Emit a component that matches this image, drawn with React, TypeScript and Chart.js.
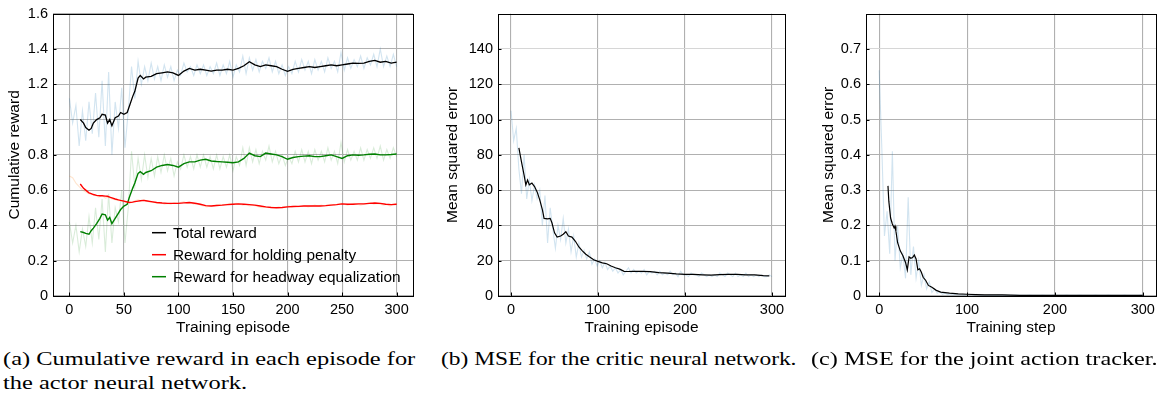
import React, { useEffect, useRef } from 'react';
import { Chart, registerables } from 'chart.js';

Chart.register(...registerables);

const SANS = '"Liberation Sans", Arial, Helvetica, sans-serif';
const SERIF = '"Liberation Serif", "Times New Roman", serif';

// ---------- shared ----------
const rawEpisodes: number[] = Array.from({ length: 101 }, (_, i) => i * 3);

// ---------- (a) cumulative reward ----------
const aXTicks = [0, 50, 100, 150, 200, 250, 300];
const aYTicks = [0, 0.2, 0.4, 0.6, 0.8, 1, 1.2, 1.4, 1.6];

const aSmoothX = [10, 13, 15, 18, 20, 22, 25, 28, 30, 33, 35, 37, 39, 42, 45, 47, 50, 53, 55, 58, 60, 63, 65, 68, 70, 75, 80, 85, 90, 95, 100, 105, 110, 115, 120, 125, 130, 135, 140, 145, 150, 155, 160, 165, 170, 175, 180, 185, 190, 195, 200, 205, 210, 215, 220, 225, 230, 235, 240, 245, 250, 255, 260, 265, 270, 275, 280, 285, 290, 295, 300];

const totalSmooth = [1.0, 0.98, 0.955, 0.94, 0.95, 0.98, 1.0, 1.01, 1.03, 1.025, 0.98, 1.0, 0.965, 1.01, 1.02, 1.04, 1.03, 1.04, 1.075, 1.13, 1.16, 1.235, 1.25, 1.23, 1.24, 1.245, 1.26, 1.265, 1.27, 1.265, 1.25, 1.275, 1.29, 1.28, 1.285, 1.28, 1.275, 1.28, 1.28, 1.285, 1.28, 1.29, 1.305, 1.328, 1.31, 1.3, 1.31, 1.305, 1.3, 1.285, 1.273, 1.285, 1.29, 1.295, 1.3, 1.295, 1.3, 1.305, 1.31, 1.305, 1.31, 1.315, 1.32, 1.318, 1.32, 1.33, 1.335, 1.325, 1.33, 1.32, 1.325];

const holdingSmooth = [0.635, 0.61, 0.6, 0.585, 0.58, 0.575, 0.57, 0.568, 0.568, 0.566, 0.565, 0.56, 0.556, 0.55, 0.545, 0.542, 0.538, 0.533, 0.53, 0.532, 0.535, 0.538, 0.54, 0.542, 0.54, 0.535, 0.53, 0.527, 0.525, 0.525, 0.525, 0.528, 0.53, 0.526, 0.52, 0.512, 0.51, 0.513, 0.515, 0.518, 0.52, 0.522, 0.52, 0.518, 0.515, 0.51, 0.505, 0.502, 0.5, 0.502, 0.505, 0.507, 0.508, 0.51, 0.51, 0.51, 0.51, 0.512, 0.515, 0.518, 0.522, 0.52, 0.52, 0.522, 0.522, 0.525, 0.527, 0.525, 0.52, 0.518, 0.52];

const headwaySmooth = [0.365, 0.36, 0.355, 0.35, 0.37, 0.385, 0.41, 0.44, 0.465, 0.46, 0.43, 0.445, 0.41, 0.44, 0.47, 0.49, 0.51, 0.52, 0.56, 0.61, 0.64, 0.695, 0.705, 0.69, 0.7, 0.71, 0.73, 0.74, 0.745, 0.74, 0.73, 0.75, 0.76, 0.76, 0.77, 0.775, 0.765, 0.762, 0.76, 0.758, 0.755, 0.76, 0.78, 0.81, 0.795, 0.79, 0.81, 0.805, 0.8, 0.79, 0.775, 0.785, 0.79, 0.793, 0.795, 0.79, 0.79, 0.795, 0.8, 0.79, 0.78, 0.795, 0.8, 0.798, 0.8, 0.803, 0.805, 0.8, 0.8, 0.802, 0.805];

const totalRaw = [
  1.12, 0.98, 1.08, 0.85, 1.05, 0.88, 1.1, 0.92, 1.15, 0.9,
  1.22, 0.85, 1.27, 0.8, 1.1, 0.95, 1.18, 0.84, 1.05, 1.3,
  1.12, 1.33, 1.2, 1.3, 1.22, 1.32, 1.23, 1.3, 1.22, 1.31,
  1.24, 1.3, 1.22, 1.28, 1.25, 1.32, 1.27, 1.3, 1.25, 1.31,
  1.26, 1.31, 1.25, 1.3, 1.26, 1.32, 1.25, 1.31, 1.26, 1.33,
  1.24, 1.31, 1.27, 1.36, 1.26, 1.35, 1.28, 1.34, 1.27, 1.33,
  1.29, 1.35, 1.27, 1.33, 1.26, 1.31, 1.25, 1.3, 1.26, 1.33,
  1.27, 1.34, 1.28, 1.33, 1.26, 1.34, 1.28, 1.33, 1.27, 1.35,
  1.29, 1.33, 1.27, 1.38, 1.28, 1.35, 1.29, 1.34, 1.3, 1.36,
  1.29, 1.35, 1.31, 1.37, 1.3, 1.4, 1.3, 1.36, 1.3, 1.37,
  1.3,
];

const holdingRaw = [
  0.68, 0.67, 0.64, 0.62, 0.6, 0.59, 0.58, 0.575, 0.57, 0.56,
  0.57, 0.555, 0.56, 0.55, 0.545, 0.54, 0.54, 0.53, 0.535, 0.53,
  0.54, 0.545, 0.54, 0.545, 0.535, 0.53, 0.53, 0.525, 0.53, 0.52,
  0.525, 0.52, 0.53, 0.525, 0.53, 0.535, 0.525, 0.53, 0.52, 0.525,
  0.515, 0.51, 0.505, 0.51, 0.51, 0.515, 0.52, 0.515, 0.52, 0.525,
  0.52, 0.525, 0.52, 0.515, 0.52, 0.51, 0.515, 0.51, 0.505, 0.5,
  0.505, 0.5, 0.505, 0.5, 0.505, 0.5, 0.505, 0.51, 0.505, 0.51,
  0.505, 0.51, 0.51, 0.505, 0.51, 0.515, 0.51, 0.515, 0.51, 0.515,
  0.52, 0.515, 0.52, 0.525, 0.52, 0.515, 0.52, 0.525, 0.52, 0.515,
  0.52, 0.525, 0.53, 0.52, 0.525, 0.52, 0.515, 0.52, 0.51, 0.52,
  0.525,
];

const headwayRaw = [
  0.42, 0.3, 0.4, 0.25, 0.38, 0.28, 0.45, 0.3, 0.5, 0.32,
  0.55, 0.25, 0.58, 0.3, 0.5, 0.42, 0.6, 0.3, 0.5, 0.82,
  0.62, 0.78, 0.66, 0.8, 0.67, 0.78, 0.68, 0.79, 0.7, 0.8,
  0.71, 0.78, 0.68, 0.76, 0.72, 0.8, 0.73, 0.79, 0.72, 0.8,
  0.73, 0.8, 0.73, 0.79, 0.72, 0.8, 0.72, 0.79, 0.73, 0.8,
  0.71, 0.79, 0.74, 0.84, 0.74, 0.84, 0.76, 0.83, 0.75, 0.82,
  0.77, 0.85, 0.76, 0.82, 0.75, 0.8, 0.74, 0.79, 0.75, 0.82,
  0.76, 0.83, 0.76, 0.82, 0.75, 0.83, 0.77, 0.82, 0.76, 0.84,
  0.77, 0.82, 0.75, 0.87, 0.76, 0.83, 0.77, 0.82, 0.77, 0.84,
  0.77, 0.83, 0.78, 0.84, 0.78, 0.85, 0.77, 0.83, 0.78, 0.84,
  0.79,
];

// ---------- (b) critic MSE ----------
const bXTicks = [0, 100, 200, 300];
const bYTicks = [0, 20, 40, 60, 80, 100, 120, 140];
const bSmoothX = [9, 12, 15, 17, 19, 21, 24, 27, 30, 33, 36, 38, 42, 45, 47, 50, 53, 57, 60, 63, 66, 70, 74, 78, 82, 86, 90, 95, 100, 105, 110, 115, 120, 125, 130, 135, 140, 150, 160, 170, 180, 190, 200, 210, 220, 230, 240, 250, 260, 270, 280, 290, 297];
const bSmoothY = [84, 76, 68.5, 63, 65.7, 63, 64, 62, 59, 54.5, 49, 44, 43.7, 44, 41.5, 35.8, 33.4, 34, 35, 36.4, 34, 33.4, 31, 27.8, 25.6, 23.7, 22.2, 20.5, 19.6, 18.8, 18.3, 17, 16, 15.2, 14, 13.9, 14, 14, 13.8, 13.2, 13, 12.5, 12.3, 12.3, 12, 11.8, 12.1, 12.3, 12.2, 12, 12, 11.5, 11.4];
const bRaw = [
  105, 88, 95, 72, 58, 80, 55, 66, 54, 63,
  55, 60, 40, 57, 30, 50, 38, 27, 40, 32,
  44, 30, 38, 25, 34, 22, 30, 22, 26, 21,
  25, 18, 21, 17, 20, 16, 19, 15, 17, 14,
  16, 13, 15, 12, 14, 16, 13, 15, 13, 14,
  13, 15, 12, 14, 13, 14, 12, 14, 12, 13,
  12, 14, 12, 13, 11, 14, 12, 12, 11, 13,
  12, 12, 11, 13, 12, 11, 12, 11, 12, 11,
  13, 12, 11, 13, 12, 11, 13, 11, 12, 11,
  13, 11, 12, 11, 12, 11, 12, 11, 11, 12,
  11,
];

// ---------- (c) joint action tracker MSE ----------
const cXTicks = [0, 100, 200, 300];
const cYTicks = [0, 0.1, 0.2, 0.3, 0.4, 0.5, 0.6, 0.7];
const cSmoothX = [10, 11, 13, 15, 17, 18, 19, 21, 24, 27, 30, 32, 34, 36, 38, 40, 42, 44, 46, 48, 50, 53, 56, 60, 65, 70, 80, 90, 100, 110, 120, 140, 160, 180, 200, 220, 240, 260, 280, 300];
const cSmoothY = [0.312, 0.268, 0.221, 0.204, 0.193, 0.198, 0.184, 0.151, 0.128, 0.114, 0.095, 0.074, 0.111, 0.107, 0.109, 0.116, 0.105, 0.074, 0.077, 0.067, 0.053, 0.044, 0.03, 0.025, 0.016, 0.011, 0.008, 0.006, 0.005, 0.004, 0.003, 0.003, 0.002, 0.002, 0.002, 0.002, 0.002, 0.002, 0.002, 0.002];
const cRaw = [
  0.64, 0.42, 0.17, 0.24, 0.12, 0.41, 0.1, 0.2, 0.08, 0.12,
  0.05, 0.28, 0.06, 0.14, 0.05, 0.1, 0.03, 0.06, 0.02, 0.04,
  0.01, 0.02, 0.008, 0.012, 0.005, 0.008, 0.004, 0.006, 0.003, 0.005,
  0.003, 0.004, 0.002, 0.004, 0.003, 0.004, 0.002, 0.005, 0.002, 0.003,
  0.002, 0.002, 0.003, 0.002, 0.002, 0.003, 0.002, 0.002, 0.003, 0.002,
  0.002, 0.002, 0.003, 0.002, 0.002, 0.002, 0.002, 0.003, 0.002, 0.002,
  0.002, 0.002, 0.003, 0.002, 0.002, 0.002, 0.003, 0.002, 0.002, 0.002,
  0.002, 0.003, 0.002, 0.002, 0.002, 0.002, 0.003, 0.002, 0.002, 0.002,
  0.002, 0.002, 0.003, 0.002, 0.002, 0.002, 0.002, 0.003, 0.002, 0.002,
  0.002, 0.002, 0.002, 0.003, 0.002, 0.002, 0.002, 0.002, 0.002, 0.003,
  0.002,
];

function pairs(xs: number[], ys: number[]) {
  const n = Math.min(xs.length, ys.length);
  const out: { x: number; y: number }[] = [];
  for (let i = 0; i < n; i++) out.push({ x: xs[i], y: ys[i] });
  return out;
}

function fmt(v: number) {
  return String(+Number(v).toFixed(4));
}

const framePlugin = {
  id: 'frame',
  afterDatasetsDraw(chart: any) {
    const { ctx, chartArea: a, scales } = chart;
    ctx.save();
    ctx.strokeStyle = '#000';
    ctx.lineWidth = 1;
    ctx.beginPath();
    for (const t of scales.x.ticks) {
      const px = Math.round(scales.x.getPixelForValue(t.value)) + 0.5;
      ctx.moveTo(px, a.bottom);
      ctx.lineTo(px, a.bottom - 3.5);
    }
    for (const t of scales.y.ticks) {
      const py = Math.round(scales.y.getPixelForValue(t.value)) + 0.5;
      ctx.moveTo(a.left, py);
      ctx.lineTo(a.left + 3.5, py);
    }
    ctx.stroke();
    ctx.strokeRect(Math.round(a.left) + 0.5, Math.round(a.top) + 0.5, Math.round(a.right - a.left), Math.round(a.bottom - a.top));
    ctx.restore();
  },
};

const legendPlugin = {
  id: 'inlineLegend',
  afterDatasetsDraw(chart: any, _args: any, opts: any) {
    if (!opts || !opts.show) return;
    const { ctx, chartArea: a } = chart;
    const items = chart.data.datasets.filter((d: any) => d.label);
    ctx.save();
    ctx.font = `15.4px ${SANS}`;
    ctx.textBaseline = 'middle';
    ctx.fillStyle = '#000';
    items.forEach((d: any, i: number) => {
      const y = a.top + opts.top + i * opts.rowGap;
      ctx.strokeStyle = d.borderColor;
      ctx.lineWidth = 1.5;
      ctx.beginPath();
      ctx.moveTo(a.left + opts.left, y);
      ctx.lineTo(a.left + opts.left + 14, y);
      ctx.stroke();
      ctx.fillText(d.label, a.left + opts.left + 21, y + 1);
    });
    ctx.restore();
  },
};

type PanelProps = {
  left: number;
  width: number;
  height: number;
  yAxisWidth: number;
  yTitlePad: number;
  padRight: number;
  xTicks: number[];
  yTicks: number[];
  yMax: number;
  yTitle: string;
  xTitle: string;
  lightGrid?: number;
  datasets: any[];
  legend?: any;
};

function Panel(p: PanelProps) {
  const ref = useRef<HTMLCanvasElement>(null);
  useEffect(() => {
    if (!ref.current) return;
    const chart = new Chart(ref.current, {
      type: 'line',
      data: { datasets: p.datasets },
      plugins: [framePlugin, legendPlugin],
      options: {
        animation: false,
        responsive: false,
        devicePixelRatio: 1,
        layout: { padding: { top: 10, right: p.padRight, left: 0, bottom: 0 } },
        elements: { point: { radius: 0 }, line: { tension: 0 } },
        plugins: {
          legend: { display: false },
          tooltip: { enabled: false },
          inlineLegend: p.legend || { show: false },
        } as any,
        scales: {
          x: {
            type: 'linear',
            min: -15,
            max: 315,
            afterBuildTicks: (s: any) => {
              s.ticks = p.xTicks.map((v) => ({ value: v }));
            },
            afterFit: (s: any) => {
              s.height = p.height - 296;
            },
            grid: { color: '#b0b0b0', lineWidth: 1.1, drawTicks: false },
            border: { display: false },
            ticks: {
              color: '#000',
              padding: 5,
              maxRotation: 0,
              font: { family: SANS, size: 14.5 },
              callback: (v: any) => fmt(v),
            },
            title: {
              display: true,
              text: p.xTitle,
              color: '#000',
              font: { family: SANS, size: 15.5, lineHeight: 1 },
              padding: { top: 0, bottom: 5 },
            },
          },
          y: {
            type: 'linear',
            min: 0,
            max: p.yMax,
            afterBuildTicks: (s: any) => {
              s.ticks = p.yTicks.map((v) => ({ value: v }));
            },
            afterFit: (s: any) => {
              s.width = p.yAxisWidth;
            },
            grid: {
              color: (c: any) => (p.lightGrid !== undefined && c.tick && Math.abs(c.tick.value - p.lightGrid) < 1e-9 ? '#d6d6d6' : '#b0b0b0'),
              lineWidth: 1.1,
              drawTicks: false,
            },
            border: { display: false },
            ticks: {
              color: '#000',
              padding: 5,
              font: { family: SANS, size: 14.5 },
              callback: (v: any) => fmt(v),
            },
            title: {
              display: true,
              text: p.yTitle,
              color: '#000',
              font: { family: SANS, size: 15.5, lineHeight: 1 },
              padding: { top: p.yTitlePad, bottom: 0 },
            },
          },
        },
      } as any,
    });
    return () => chart.destroy();
  }, []);
  return (
    <canvas
      ref={ref}
      width={p.width}
      height={p.height}
      style={{ position: 'absolute', left: p.left, top: 0, width: p.width, height: p.height }}
    />
  );
}

const lineDs = (label: string, data: any[], color: string, width: number) => ({
  label,
  data,
  borderColor: color,
  backgroundColor: color,
  borderWidth: width,
  pointRadius: 0,
  fill: false,
});

export default function App() {
  const aDatasets = [
    lineDs('Total reward', pairs(aSmoothX, totalSmooth), '#000000', 1.3),
    lineDs('Reward for holding penalty', pairs(aSmoothX, holdingSmooth), '#ff0000', 1.4),
    lineDs('Reward for headway equalization', pairs(aSmoothX, headwaySmooth), '#008000', 1.4),
    lineDs('', pairs(rawEpisodes, totalRaw), 'rgba(31,119,180,0.2)', 1.1),
    lineDs('', pairs(rawEpisodes, holdingRaw), 'rgba(255,127,14,0.2)', 1.1),
    lineDs('', pairs(rawEpisodes, headwayRaw), 'rgba(0,128,0,0.15)', 1.1),
  ];
  const bDatasets = [
    lineDs('', pairs(bSmoothX, bSmoothY), '#000000', 1.2),
    lineDs('', pairs(rawEpisodes, bRaw), 'rgba(31,119,180,0.2)', 1.1),
  ];
  const cDatasets = [
    lineDs('', pairs(cSmoothX, cSmoothY), '#000000', 1.2),
    lineDs('', pairs(rawEpisodes, cRaw), 'rgba(31,119,180,0.2)', 1.1),
  ];
  const capStyle: React.CSSProperties = {
    position: 'absolute',
    fontFamily: SERIF,
    fontSize: 18.5,
    lineHeight: '24px',
    whiteSpace: 'nowrap',
    color: '#000',
    transformOrigin: 'left top',
  };
  return (
    <div style={{ position: 'fixed', left: 0, top: 0, width: 1165, height: 401, background: '#fff', overflow: 'hidden' }}>
      <Panel
        left={0}
        width={420}
        height={340}
        yAxisWidth={53}
        yTitlePad={7}
        padRight={7}
        xTicks={aXTicks}
        yTicks={aYTicks}
        yMax={1.6}
        yTitle="Cumulative reward"
        xTitle="Training episode"
        datasets={aDatasets}
        legend={{ show: true, left: 99, top: 219, rowGap: 22 }}
      />
      <Panel
        left={430}
        width={792 - 430}
        height={340}
        yAxisWidth={68}
        yTitlePad={15}
        padRight={7}
        xTicks={bXTicks}
        yTicks={bYTicks}
        yMax={160}
        yTitle="Mean squared error"
        xTitle="Training episode"
        lightGrid={140}
        datasets={bDatasets}
      />
      <Panel
        left={790}
        width={375}
        height={340}
        yAxisWidth={76}
        yTitlePad={31}
        padRight={9}
        xTicks={cXTicks}
        yTicks={cYTicks}
        yMax={0.8}
        yTitle="Mean squared error"
        xTitle="Training step"
        lightGrid={0.7}
        datasets={cDatasets}
      />
      <div style={{ ...capStyle, left: 3, top: 347, transform: 'scaleX(1.32)' }}>
        (a) Cumulative reward in each episode for
        <br />
        the actor neural network.
      </div>
      <div style={{ ...capStyle, left: 441, top: 347, transform: 'scaleX(1.265)' }}>(b) MSE for the critic neural network.</div>
      <div style={{ ...capStyle, left: 811, top: 347, transform: 'scaleX(1.31)' }}>(c) MSE for the joint action tracker.</div>
    </div>
  );
}
